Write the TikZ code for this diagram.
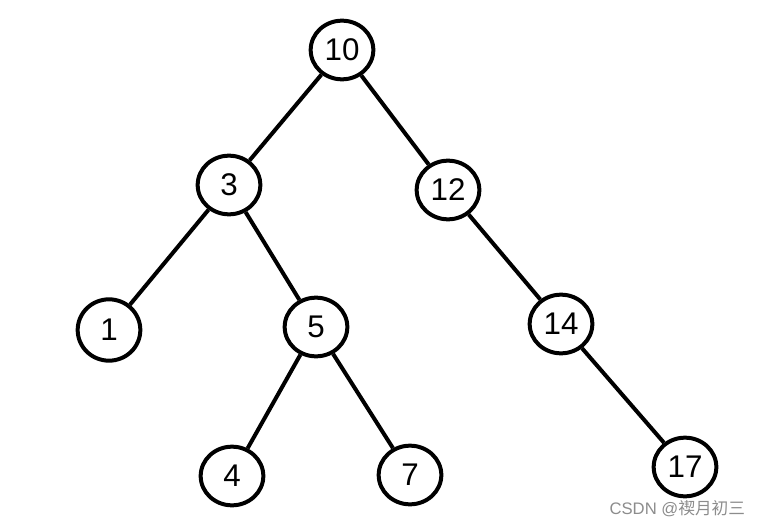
\documentclass[tikz,border=0pt]{standalone}
\usepackage{fontspec}
\setmainfont{Liberation Sans}
\newfontfamily\cjkfont{Noto Sans CJK SC}
\usepackage{tikz}
\usetikzlibrary{shapes.geometric}

\begin{document}
\begin{tikzpicture}[x=0.75pt,y=-0.75pt,line width=3pt,
                    main node/.style={ellipse,draw,minimum width=47pt,minimum height=44pt,inner sep=0pt,font=\fontsize{23.5}{26}\selectfont}]
  \useasboundingbox (0,0) rectangle (762,527);
  \node[main node] (n10) at (342,50) {10};
  \node[main node] (n3) at (229,185) {3};
  \node[main node] (n12) at (448,190) {12};
  \node[main node,minimum height=46pt] (n1) at (109,330) {1};
  \node[main node] (n5) at (316,327) {5};
  \node[main node] (n14) at (561,324) {14};
  \node[main node] (n4) at (232,476) {4};
  \node[main node] (n7) at (410,475) {7};
  \node[main node] (n17) at (685,467) {17};

  \path
    (n10) edge (n3)
          edge (n12)
    (n3) edge (n1)
         edge (n5)
    (n5) edge (n4)
         edge (n7)
    (n12) edge (n14)
    (n14) edge (n17);

  \node[anchor=east,text=black!45,inner sep=0pt,font=\fontsize{12.5}{14}\selectfont] (mark) at (747,509) {CSDN @{\cjkfont 禊月初三}};
\end{tikzpicture}
\end{document}
